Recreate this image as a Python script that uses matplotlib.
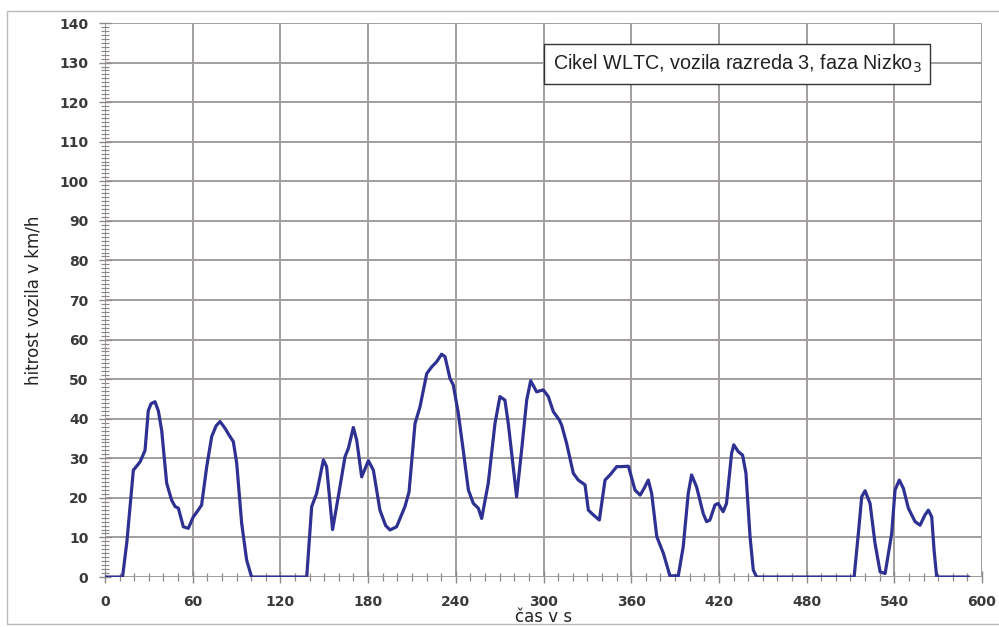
import matplotlib.pyplot as plt
from matplotlib.patches import Rectangle
from matplotlib.ticker import MultipleLocator

# WLTC class 3, low phase: time (s) and vehicle speed (km/h)
time_s = [
    0, 12, 15, 19.4, 24, 27.4, 29.6, 31.5, 34.2, 36.5, 38.8, 42.2, 45.6, 48, 50.2,
    53.6, 57, 60.4, 63, 66.1, 69.6, 73, 76, 78.7, 82.1, 85, 87.8, 90.1, 93.5, 96.9,
    100.3, 138, 141.4, 144.8, 149.4, 151.6, 155.7, 159.6, 164.2, 166.5, 169.9,
    172.2, 175.6, 180.2, 183.6, 188.1, 192, 195, 199.5, 205.2, 208, 212.1, 215.5,
    220.1, 223.5, 226.9, 230.3, 232.6, 236, 238.3, 241.7, 245.1, 248.6, 252, 255.4,
    257.7, 262.2, 266.8, 270.2, 273.6, 275.9, 281.6, 285, 288.5, 291.2, 295.3,
    299.8, 303.3, 306.7, 310.8, 312.4, 315.8, 320.4, 323.8, 328.4, 330.7, 334.1,
    338.2, 342.1, 345.5, 350.1, 353.5, 358.1, 362.6, 366.1, 368.8, 371.7, 374,
    377.5, 382, 386.5, 392.2, 395.6, 399, 401.3, 404.7, 409.3, 411.6, 413.8, 417.3,
    419.5, 422.9, 425.2, 428.7, 430.2, 433.2, 436.2, 438.5, 441.3, 443.5, 445.8,
    512.5, 515.4, 517.7, 520, 523.4, 526.8, 530.3, 533.7, 538.2, 540.5, 543.4,
    546.2, 549.6, 554.2, 557.6, 561, 563.3, 565.6, 567.2, 569, 591,
]
speed_kmh = [
    0, 0, 9, 27, 29.1, 32, 42, 43.8, 44.3, 42, 37, 23.7, 19.4, 17.8, 17.4,
    12.7, 12.3, 15.2, 16.5, 18.2, 27.9, 35.5, 38.2, 39.3, 37.6, 35.8, 34.2, 28.8, 13.6, 4.3,
    0, 0, 17.8, 21.1, 29.6, 27.9, 12, 20.3, 30.4, 32.5, 37.8,
    34.6, 25.3, 29.4, 27, 16.9, 13, 11.9, 12.7, 17.8, 21.5, 38.8, 43,
    51.4, 53.1, 54.4, 56.3, 55.7, 50.2, 48.5, 41.4, 32, 22, 18.6, 17.4,
    14.8, 23.7, 38.8, 45.6, 44.7, 38.8, 20.3, 32, 44.7, 49.6, 46.8,
    47.3, 45.6, 41.8, 39.7, 38.4, 33.8, 26.2, 24.5, 23.3, 16.9, 15.7,
    14.4, 24.5, 25.8, 27.9, 27.9, 28, 22, 20.7, 22.4, 24.5, 21.1,
    10.2, 6, 0.3, 0.3, 7.7, 21.1, 25.8, 22.8, 16, 14, 14.4, 18.2,
    18.6, 16.5, 18.6, 31.3, 33.4, 31.7, 30.8, 26.2, 10.2, 1.8, 0,
    0, 11, 20.3, 21.8, 18.6, 8.5, 1.3, 0.9, 11, 22, 24.5,
    22.4, 17.4, 14, 13.1, 15.7, 16.9, 15.2, 6.8, 0, 0,
]

x_ticks = list(range(0, 601, 60))
y_ticks = list(range(0, 141, 10))
label_text = "Cikel WLTC, vozila razreda 3, faza Nizko$_3$"

grid_color = "#a39e9e"
tick_color = "#8e8888"

fig = plt.figure(figsize=(9.99, 6.27), dpi=100)
ax = fig.add_axes([0.1051, 0.0797, 0.8779, 0.8836])

ax.plot(time_s, speed_kmh, color="#2e3192", linewidth=2.3,
        solid_joinstyle="round", solid_capstyle="round", zorder=3)

ax.set_xlim(0, 600)
ax.set_ylim(0, 140)
ax.set_xticks(x_ticks)
ax.set_yticks(y_ticks)
ax.xaxis.set_minor_locator(MultipleLocator(10))
ax.yaxis.set_minor_locator(MultipleLocator(1))

ax.grid(True, which="major", color=grid_color, linewidth=1.4, zorder=1)
for side in ["top", "right", "bottom", "left"]:
    ax.spines[side].set_visible(False)
ax.axhline(0, color=grid_color, linewidth=1.4, zorder=1)
ax.axvline(0, color=grid_color, linewidth=1.4, zorder=1)

ax.tick_params(axis="both", which="major", direction="inout", length=8,
               width=1.0, color=tick_color, labelsize=10, labelcolor="#3a3a3a")
ax.tick_params(axis="both", which="minor", direction="inout", length=6,
               width=0.9, color=tick_color)
ax.tick_params(axis="y", which="major", pad=8)
ax.tick_params(axis="x", which="major", pad=9)
for lbl in ax.get_xticklabels() + ax.get_yticklabels():
    lbl.set_fontweight("bold")

ax.set_xlabel("čas v s", fontsize=12, labelpad=-1, color="#222222")
ax.set_ylabel("hitrost vozila v km/h", fontsize=12, labelpad=12, color="#222222")

ax.text(0.7206, 0.926, label_text, transform=ax.transAxes, ha="center", va="center",
        fontsize=14.2, family="Liberation Sans", color="#222222", zorder=5,
        bbox=dict(boxstyle="square,pad=0.45", facecolor="white",
                  edgecolor="#333333", linewidth=1.0))

# thin frame around the whole chart area
fig.patches.append(Rectangle((0.007, 0.004), 1.1, 0.978, transform=fig.transFigure,
                             fill=False, edgecolor="#b8b8b8", linewidth=1.0))

fig.savefig("out.png", dpi=100)
plt.close(fig)
